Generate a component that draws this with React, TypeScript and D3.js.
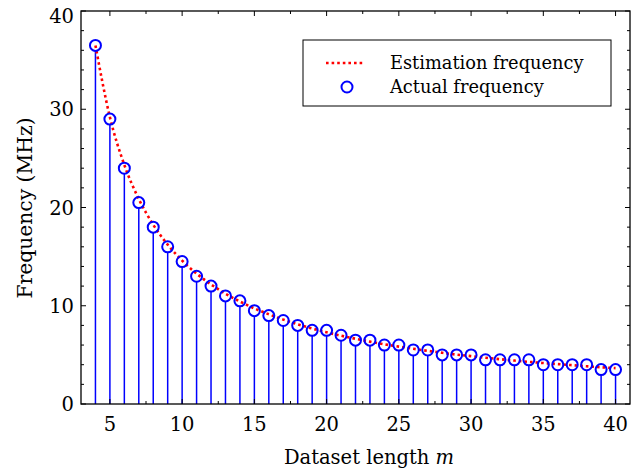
import React from "react";
import * as d3 from "d3";

const mValues = [4,5,6,7,8,9,10,11,12,13,14,15,16,17,18,19,20,21,22,23,24,25,26,27,28,29,30,31,32,33,34,35,36,37,38,39,40];
const actualFreq = [36.5,29,24,20.5,18,16,14.5,13,12,11,10.5,9.5,9,8.5,8,7.5,7.5,7,6.5,6.5,6,6,5.5,5.5,5,5,5,4.5,4.5,4.5,4.5,4,4,4,4,3.5,3.5];
const estFreq = [36.5,29.2,24.33,20.86,18.25,16.22,14.6,13.27,12.17,11.23,10.43,9.73,9.13,8.59,8.11,7.68,7.3,6.95,6.64,6.35,6.08,5.84,5.62,5.41,5.21,5.03,4.87,4.71,4.56,4.42,4.29,4.17,4.06,3.95,3.84,3.74,3.65];
const xTicks = [5,10,15,20,25,30,35,40];
const xMinorTicks = [5,7.5,10,12.5,15,17.5,20,22.5,25,27.5,30,32.5,35,37.5,40];
const yTicks = [0,10,20,30,40];
const yMinorTicks = [2,4,6,8,12,14,16,18,22,24,26,28,32,34,36,38];
const legendLabels = ["Estimation frequency", "Actual frequency"];

const W = 642, H = 473;
const L = 81, R = 630, T = 11, B = 404;
const FONT = "'DejaVu Serif', serif";

export default function App() {
  const x = d3.scaleLinear().domain([3, 41]).range([L, R]);
  const y = d3.scaleLinear().domain([0, 40]).range([B, T]);
  const line = d3.line<number>().x((_, i) => x(mValues[i])).y((d) => y(d)).curve(d3.curveMonotoneX);
  const r = 5.5;
  return (
    <svg width={W} height={H} style={{ position: "absolute", left: 0, top: 0, background: "#fff" }}>
      <rect x={0} y={0} width={W} height={H} fill="#fff" />
      {mValues.map((m, i) => (
        <line key={"s" + m} x1={x(m)} x2={x(m)} y1={y(0)} y2={y(actualFreq[i]) + r} stroke="#0000ff" strokeWidth={1.5} />
      ))}
      <path d={line(estFreq) || ""} fill="none" stroke="#ff0000" strokeWidth={2.6} strokeDasharray="2.6,3" />
      {mValues.map((m, i) => (
        <circle key={"c" + m} cx={x(m)} cy={y(actualFreq[i])} r={r} fill="none" stroke="#0000ff" strokeWidth={2} />
      ))}
      <rect x={L} y={T} width={R - L} height={B - T} fill="none" stroke="#000" strokeWidth={1.3} />
      {xTicks.map((t) => (
        <g key={"xt" + t}>
          <line x1={x(t)} x2={x(t)} y1={B} y2={B - 5} stroke="#000" />
          <line x1={x(t)} x2={x(t)} y1={T} y2={T + 5} stroke="#000" />
          <text x={x(t)} y={431} textAnchor="middle" fontFamily={FONT} fontSize={19.5}>{t}</text>
        </g>
      ))}
      {xMinorTicks.filter((t) => !xTicks.includes(t)).map((t) => (
        <g key={"xm" + t}>
          <line x1={x(t)} x2={x(t)} y1={B} y2={B - 3} stroke="#000" />
          <line x1={x(t)} x2={x(t)} y1={T} y2={T + 3} stroke="#000" />
        </g>
      ))}
      {yTicks.map((t) => (
        <g key={"yt" + t}>
          <line x1={L} x2={L + 5} y1={y(t)} y2={y(t)} stroke="#000" />
          <line x1={R} x2={R - 5} y1={y(t)} y2={y(t)} stroke="#000" />
          <text x={74} y={Math.max(y(t), 16)} dy="0.36em" textAnchor="end" fontFamily={FONT} fontSize={19.5}>{t}</text>
        </g>
      ))}
      {yMinorTicks.map((t) => (
        <g key={"ym" + t}>
          <line x1={L} x2={L + 3} y1={y(t)} y2={y(t)} stroke="#000" />
          <line x1={R} x2={R - 3} y1={y(t)} y2={y(t)} stroke="#000" />
        </g>
      ))}
      <text x={369} y={464} textAnchor="middle" fontFamily={FONT} fontSize={19.5}>
        Dataset length <tspan fontStyle="italic">m</tspan>
      </text>
      <text transform={`translate(32,208) rotate(-90)`} textAnchor="middle" fontFamily={FONT} fontSize={20.3}>
        Frequency (MHz)
      </text>
      <rect x={303} y={40} width={308} height={66} fill="#fff" stroke="#000" strokeWidth={1} />
      <line x1={326} x2={365} y1={63} y2={63} stroke="#ff0000" strokeWidth={2.6} strokeDasharray="2.6,3" />
      <text x={390} y={63} dy="0.35em" fontFamily={FONT} fontSize={17.8}>{legendLabels[0]}</text>
      <circle cx={347} cy={87} r={r} fill="none" stroke="#0000ff" strokeWidth={2} />
      <text x={390} y={87} dy="0.35em" fontFamily={FONT} fontSize={17.8}>{legendLabels[1]}</text>
    </svg>
  );
}
